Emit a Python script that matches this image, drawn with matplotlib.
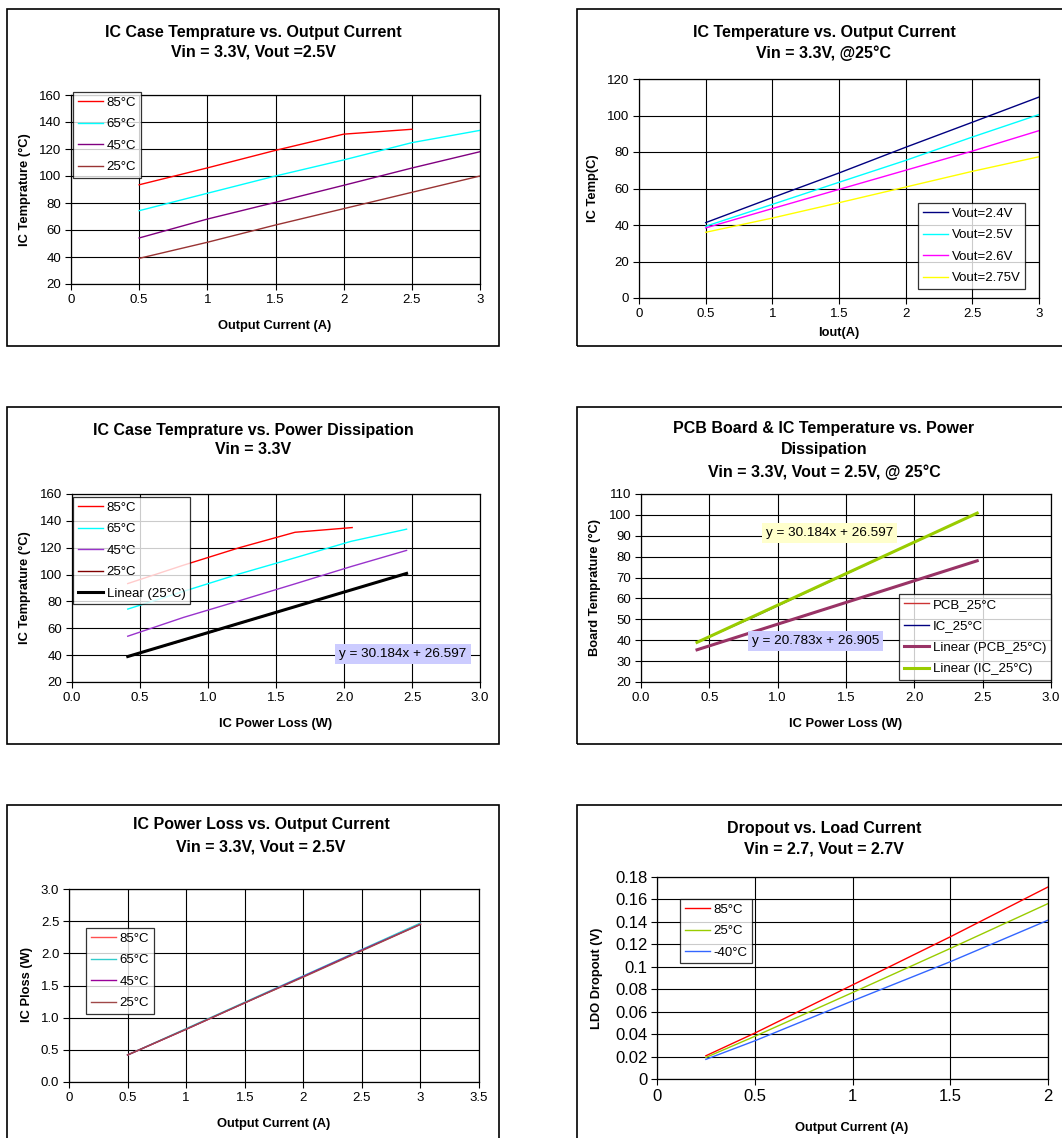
import numpy as np
import matplotlib
matplotlib.use("Agg")
import matplotlib.pyplot as plt
from matplotlib.patches import Rectangle

plt.rcParams["font.family"] = ["Liberation Sans", "DejaVu Sans"]

# =========================================================
# DATA
# =========================================================
# Panel 1 / 3: IC case temperature
iout = [0.5, 1.0, 1.5, 2.0, 2.5, 3.0]
iout_85 = [0.5, 1.0, 1.5, 2.0, 2.5]
t85 = [93.5, 106, 119, 131, 134.6]
t65 = [74.3, 87.2, 100, 111.9, 124.7, 133.8]
t45 = [54.1, 68.1, 80.5, 93.1, 105.9, 118]
t25 = [39, 50.9, 63.7, 75.8, 87.9, 100]

# power loss matching the currents above
ploss = [0.41, 0.82, 1.23, 1.64, 2.05, 2.46]
ploss_85 = [0.41, 0.82, 1.23, 1.64, 2.06]
t85_p = [93.3, 107, 120, 131.5, 135]
t65_p = [74.3, 87.5, 100.5, 112.5, 124.7, 133.8]
t45_p = [54.1, 68.1, 80.5, 93.1, 105.9, 118]
t25_p = [39, 51, 63.5, 76, 88.5, 100.8]
trend_ic = (30.184, 26.597)
trend_pcb = (20.783, 26.905)

# Panel 2: IC temp for different Vout
v24 = [41.3, 55, 68.5, 82.6, 96.3, 110.1]
v25 = [39.3, 51.3, 63.4, 75.4, 88.2, 100.5]
v26 = [38.4, 49, 59.5, 70, 80.5, 91.7]
v275 = [36, 43.8, 52.2, 60.8, 69.4, 77.4]

# Panel 4: PCB board temp
pcb_25 = [35.3, 43.9, 52.4, 61, 69.5, 78]

# Panel 5: IC power loss
pl_85 = [0.42, 0.82, 1.23, 1.64, 2.05, 2.46]
pl_65 = [0.42, 0.83, 1.24, 1.65, 2.06, 2.47]
pl_45 = [0.42, 0.82, 1.23, 1.64, 2.05, 2.45]
pl_25 = [0.42, 0.82, 1.23, 1.63, 2.04, 2.45]

# Panel 6: dropout
iload = [0.25, 0.5, 1.0, 1.5, 2.0]
d85 = [0.0207, 0.0409, 0.0838, 0.1267, 0.1711]
d25 = [0.0192, 0.038, 0.077, 0.1163, 0.1563]
dm40 = [0.0175, 0.034, 0.0696, 0.1045, 0.1415]

# =========================================================
# LAYOUT HELPERS (pixel coordinates)
# =========================================================
W, H = 1062, 1138
fig = plt.figure(figsize=(W / 100, H / 100), dpi=100)

tfs = 11.5   # titles
lfs = 9.3    # axis labels
kfs = 9.5    # tick labels
gfs = 9.5    # legend


def axes_px(l, t, r, b):
    ax = fig.add_axes([l / W, 1 - b / H, (r - l) / W, (b - t) / H])
    ax.grid(True, color="black", linewidth=0.8)
    ax.set_axisbelow(True)
    for s in ax.spines.values():
        s.set_linewidth(0.9)
    ax.tick_params(direction="out", length=4, width=0.8, labelsize=kfs, pad=3)
    return ax


def ftext(x, y, s, **kw):
    fig.text(x / W, 1 - y / H, s, **kw)


def frame(l, t, r, b):
    fig.patches.append(Rectangle((l / W, 1 - b / H), (r - l) / W, (b - t) / H,
                                 transform=fig.transFigure, fill=False,
                                 edgecolor="black", linewidth=1.2))


def legend_px(ax, x, y, fs=gfs):
    leg = ax.legend(loc="upper left", bbox_to_anchor=(x / W, 1 - y / H),
                    bbox_transform=fig.transFigure, fontsize=fs, frameon=True,
                    fancybox=False, edgecolor="black", borderaxespad=0,
                    handlelength=1.9, handletextpad=0.3, labelspacing=0.7,
                    borderpad=0.35)
    leg.get_frame().set_linewidth(0.9)
    return leg


# frames
frame(7, 9, 499, 346)
frame(577, 9, 1075, 346)
frame(7, 407, 499, 744)
frame(577, 407, 1075, 744)
frame(7, 805, 499, 1145)
frame(577, 805, 1075, 1145)

# =========================================================
# PANEL 1
# =========================================================
ax = axes_px(71, 95, 480, 284)
ax.plot(iout_85, t85, color="#FF0000", lw=1, label="85°C")
ax.plot(iout, t65, color="#00FFFF", lw=1, label="65°C")
ax.plot(iout, t45, color="#800080", lw=1, label="45°C")
ax.plot(iout, t25, color="#993333", lw=1, label="25°C")
ax.set_xlim(0, 3)
ax.set_ylim(20, 160)
ax.set_xticks(np.arange(0, 3.01, 0.5))
ax.set_xticklabels(["0", "0.5", "1", "1.5", "2", "2.5", "3"])
ax.set_yticks(np.arange(20, 161, 20))
legend_px(ax, 73, 92)
ftext(253, 32, "IC Case Temprature vs. Output Current", ha="center", va="center",
      fontsize=tfs, fontweight="bold")
ftext(253, 52, "Vin = 3.3V, Vout =2.5V", ha="center", va="center",
      fontsize=tfs, fontweight="bold")
ftext(25, 190, "IC Temprature (°C)", rotation=90, ha="center", va="center",
      fontsize=lfs, fontweight="bold")
ftext(275, 326, "Output Current (A)", ha="center", va="center",
      fontsize=lfs, fontweight="bold")

# =========================================================
# PANEL 2
# =========================================================
ax = axes_px(639, 79, 1039, 298)
ax.plot(iout, v24, color="#000080", lw=1, label="Vout=2.4V")
ax.plot(iout, v25, color="#00FFFF", lw=1, label="Vout=2.5V")
ax.plot(iout, v26, color="#FF00FF", lw=1, label="Vout=2.6V")
ax.plot(iout, v275, color="#FFFF00", lw=1, label="Vout=2.75V")
ax.set_xlim(0, 3)
ax.set_ylim(0, 120)
ax.set_xticks(np.arange(0, 3.01, 0.5))
ax.set_xticklabels(["0", "0.5", "1", "1.5", "2", "2.5", "3"])
ax.set_yticks(np.arange(0, 121, 20))
legend_px(ax, 918, 203)
ftext(824, 33, "IC Temperature vs. Output Current", ha="center", va="center",
      fontsize=tfs, fontweight="bold")
ftext(824, 53, "Vin = 3.3V, @25°C", ha="center", va="center",
      fontsize=tfs, fontweight="bold")
ftext(593, 188, "IC Temp(C)", rotation=90, ha="center", va="center",
      fontsize=lfs, fontweight="bold")
ftext(839, 333, "Iout(A)", ha="center", va="center",
      fontsize=lfs, fontweight="bold")

# =========================================================
# PANEL 3
# =========================================================
ax = axes_px(72, 494, 480, 682)
ax.plot(ploss_85, t85_p, color="#FF0000", lw=1, label="85°C")
ax.plot(ploss, t65_p, color="#00FFFF", lw=1, label="65°C")
ax.plot(ploss, t45_p, color="#9933CC", lw=1, label="45°C")
ax.plot(ploss, t25_p, color="#800000", lw=1, label="25°C")
xs = np.array([ploss[0], ploss[-1]])
ax.plot(xs, trend_ic[0] * xs + trend_ic[1], color="black", lw=2.2,
        label="Linear (25°C)")
ax.set_xlim(0, 3)
ax.set_ylim(20, 160)
ax.set_xticks(np.arange(0, 3.01, 0.5))
ax.set_xticklabels([f"{v:.1f}" for v in np.arange(0, 3.01, 0.5)])
ax.set_yticks(np.arange(20, 161, 20))
legend_px(ax, 73, 497)
ax.text(1.965, 40.6, "y = 30.184x + 26.597", fontsize=9.7, ha="left", va="center",
        bbox=dict(boxstyle="square,pad=0.3", facecolor="#CCCCFF", edgecolor="none"))
ftext(253, 430, "IC Case Temprature vs. Power Dissipation", ha="center", va="center",
      fontsize=tfs, fontweight="bold")
ftext(253, 450, "Vin = 3.3V", ha="center", va="center",
      fontsize=tfs, fontweight="bold")
ftext(25, 588, "IC Temprature (°C)", rotation=90, ha="center", va="center",
      fontsize=lfs, fontweight="bold")
ftext(276, 724, "IC Power Loss (W)", ha="center", va="center",
      fontsize=lfs, fontweight="bold")

# =========================================================
# PANEL 4
# =========================================================
ax = axes_px(641, 494, 1051, 682)
ax.plot(ploss, pcb_25, color="#CC3333", lw=1, label="PCB_25°C")
ax.plot(ploss, t25_p, color="#000080", lw=1, label="IC_25°C")
ax.plot(xs, trend_pcb[0] * xs + trend_pcb[1], color="#993366", lw=2.2,
        label="Linear (PCB_25°C)")
ax.plot(xs, trend_ic[0] * xs + trend_ic[1], color="#99CC00", lw=2.2,
        label="Linear (IC_25°C)")
ax.set_xlim(0, 3)
ax.set_ylim(20, 110)
ax.set_xticks(np.arange(0, 3.01, 0.5))
ax.set_xticklabels([f"{v:.1f}" for v in np.arange(0, 3.01, 0.5)])
ax.set_yticks(np.arange(20, 111, 10))
legend_px(ax, 899, 594)
ax.text(0.915, 91.4, "y = 30.184x + 26.597", fontsize=9.7, ha="left", va="center",
        bbox=dict(boxstyle="square,pad=0.3", facecolor="#FFFFCC", edgecolor="none"))
ax.text(0.81, 39.8, "y = 20.783x + 26.905", fontsize=9.7, ha="left", va="center",
        bbox=dict(boxstyle="square,pad=0.3", facecolor="#CCCCFF", edgecolor="none"))
ftext(824, 429, "PCB Board & IC Temperature vs. Power", ha="center", va="center",
      fontsize=tfs, fontweight="bold")
ftext(824, 450, "Dissipation", ha="center", va="center",
      fontsize=tfs, fontweight="bold")
ftext(824, 472, "Vin = 3.3V, Vout = 2.5V, @ 25°C", ha="center", va="center",
      fontsize=tfs, fontweight="bold")
ftext(595, 588, "Board Temprature (°C)", rotation=90, ha="center", va="center",
      fontsize=lfs, fontweight="bold")
ftext(846, 724, "IC Power Loss (W)", ha="center", va="center",
      fontsize=lfs, fontweight="bold")

# =========================================================
# PANEL 5
# =========================================================
ax = axes_px(69, 889, 479, 1082)
ax.plot(iout, pl_85, color="#FF5050", lw=1, label="85°C")
ax.plot(iout, pl_65, color="#33CCCC", lw=1, label="65°C")
ax.plot(iout, pl_45, color="#990099", lw=1, label="45°C")
ax.plot(iout, pl_25, color="#A04848", lw=1, label="25°C")
ax.set_xlim(0, 3.5)
ax.set_ylim(0, 3)
ax.set_xticks(np.arange(0, 3.51, 0.5))
ax.set_xticklabels(["0", "0.5", "1", "1.5", "2", "2.5", "3", "3.5"])
ax.set_yticks(np.arange(0, 3.01, 0.5))
ax.set_yticklabels([f"{v:.1f}" for v in np.arange(0, 3.01, 0.5)])
legend_px(ax, 86, 928)
ftext(261, 825, "IC Power Loss vs. Output Current", ha="center", va="center",
      fontsize=tfs, fontweight="bold")
ftext(261, 847, "Vin = 3.3V, Vout = 2.5V", ha="center", va="center",
      fontsize=tfs, fontweight="bold")
ftext(27, 985, "IC Ploss (W)", rotation=90, ha="center", va="center",
      fontsize=lfs, fontweight="bold")
ftext(274, 1124, "Output Current (A)", ha="center", va="center",
      fontsize=lfs, fontweight="bold")

# =========================================================
# PANEL 6
# =========================================================
ax = axes_px(657, 877, 1048, 1079)
ax.plot(iload, d85, color="#FF0000", lw=1, label="85°C")
ax.plot(iload, d25, color="#99CC00", lw=1, label="25°C")
ax.plot(iload, dm40, color="#3366FF", lw=1, label="-40°C")
ax.set_xlim(0, 2)
ax.set_ylim(0, 0.18)
ax.set_xticks([0, 0.5, 1, 1.5, 2])
ax.set_xticklabels(["0", "0.5", "1", "1.5", "2"])
ax.set_yticks(np.arange(0, 0.181, 0.02))
ax.set_yticklabels(["0", "0.02", "0.04", "0.06", "0.08", "0.1", "0.12",
                    "0.14", "0.16", "0.18"])
ax.tick_params(labelsize=12)
legend_px(ax, 680, 899)
ftext(824, 828, "Dropout vs. Load Current", ha="center", va="center",
      fontsize=tfs, fontweight="bold")
ftext(824, 849, "Vin = 2.7, Vout = 2.7V", ha="center", va="center",
      fontsize=tfs, fontweight="bold")
ftext(597, 978, "LDO Dropout (V)", rotation=90, ha="center", va="center",
      fontsize=lfs, fontweight="bold")
ftext(852, 1128, "Output Current (A)", ha="center", va="center",
      fontsize=lfs, fontweight="bold")

fig.savefig("out.png", dpi=100)
